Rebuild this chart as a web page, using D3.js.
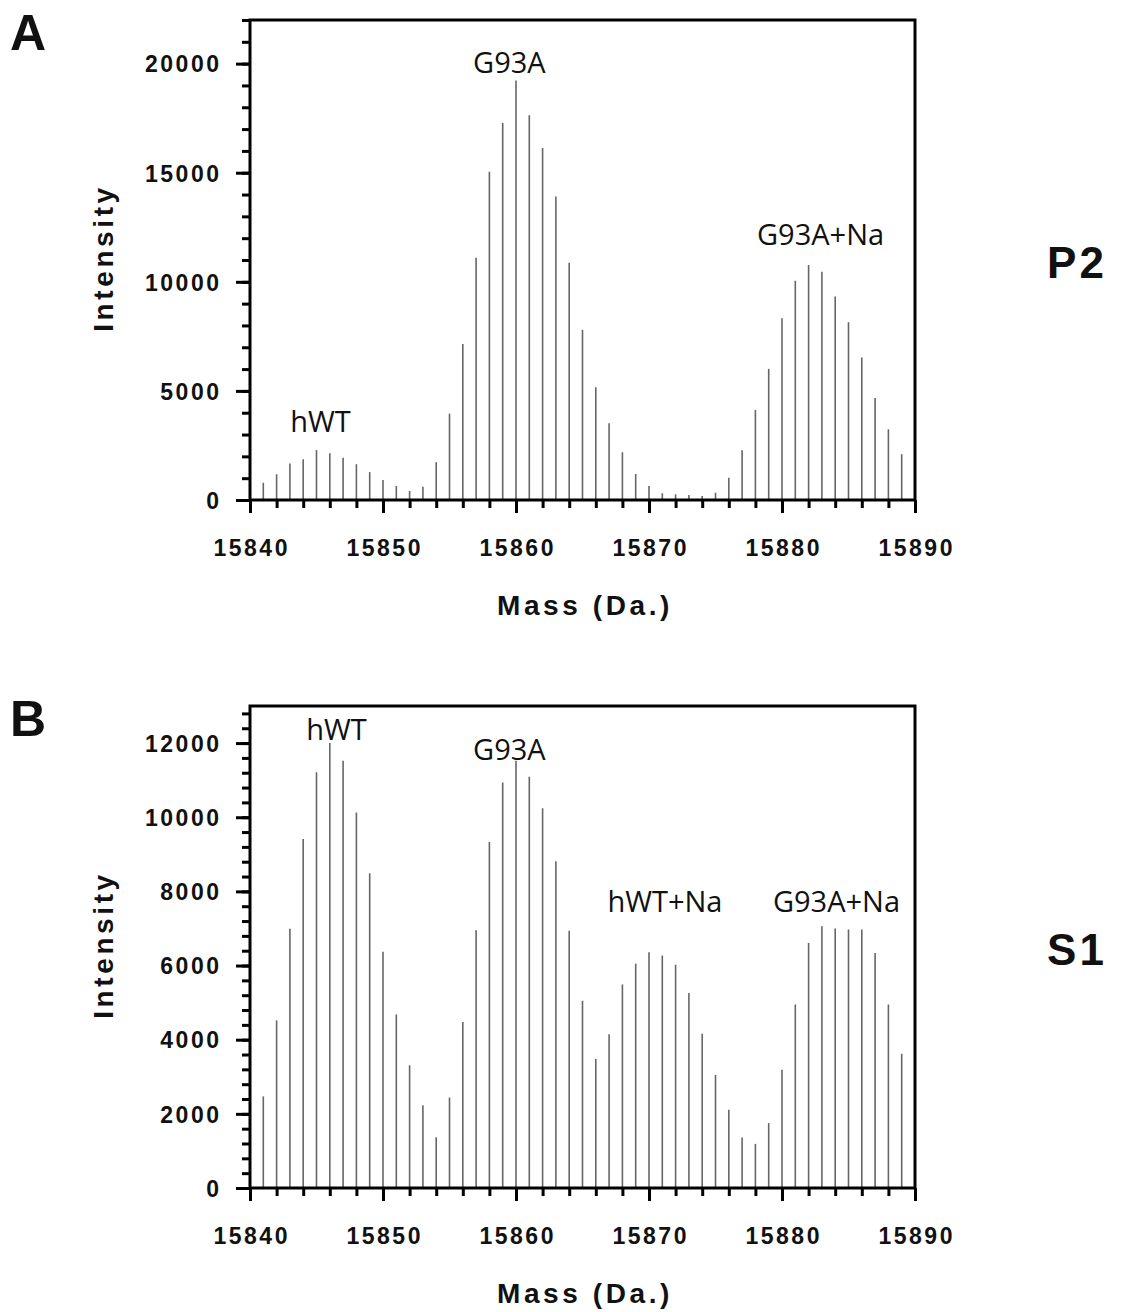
<!DOCTYPE html>
<html>
<head>
<meta charset="utf-8">
<script src="https://cdn.jsdelivr.net/npm/d3@7"></script>
<style>
  body { margin: 0; background: #fff; }
  svg  { display: block; }
  .tick text  { font-family: "Liberation Sans", Arial, sans-serif; font-weight: bold; font-size: 23px; letter-spacing: 2.5px; fill: #111; }
  .axis-title { font-family: "Liberation Sans", Arial, sans-serif; font-weight: bold; font-size: 28px; letter-spacing: 3.6px; fill: #111; }
  .panel-tag  { font-family: "Liberation Sans", Arial, sans-serif; font-weight: bold; fill: #111; }
  .peak-label { font-family: "Open Sans", "DejaVu Sans", sans-serif; font-size: 29px; fill: #111; }
</style>
</head>
<body>
<div id="main_graph"></div>
<script>
'use strict';

// mass axis, one peak per Da
const masses = [
  15841, 15842, 15843, 15844, 15845, 15846, 15847, 15848, 15849, 15850,
  15851, 15852, 15853, 15854, 15855, 15856, 15857, 15858, 15859, 15860,
  15861, 15862, 15863, 15864, 15865, 15866, 15867, 15868, 15869, 15870,
  15871, 15872, 15873, 15874, 15875, 15876, 15877, 15878, 15879, 15880,
  15881, 15882, 15883, 15884, 15885, 15886, 15887, 15888, 15889
]

// panel A (P2) intensities
const intensityP2 = [
    790,  1180,  1670,  1870,  2290,  2140,  1940,  1640,  1280,   920,
    640,   410,   610,  1730,  3960,  7150, 11100, 15050, 17280, 19230,
  17630, 16130, 13910, 10870,  7800,  5170,  3520,  2190,  1190,   640,
    310,   260,   230,   180,   335,  1020,  2280,  4130,  6010,  8330,
  10050, 10770, 10460,  9330,  8150,  6530,  4680,  3240,  2100
]

// panel B (S1) intensities
const intensityS1 = [
   2470,  4520,  6990,  9410, 11210, 12000, 11520, 10130,  8490,  6370,
   4680,  3310,  2230,  1370,  2440,  4480,  6950,  9330, 10940, 11520,
  11090, 10240,  8810,  6940,  5050,  3480,  4150,  5490,  6050,  6360,
   6270,  6020,  5260,  4160,  3050,  2110,  1360,  1190,  1750,  3190,
   4950,  6610,  7060,  7000,  6970,  6970,  6340,  4950,  3620
]

const massTicks   = [15840, 15850, 15860, 15870, 15880, 15890]
const ticksP2     = [0, 5000, 10000, 15000, 20000]
const ticksS1     = [0, 2000, 4000, 6000, 8000, 10000, 12000]

// peak annotations: text, mass, intensity of text baseline
const labelsP2 = [
  { text: 'hWT',     mass: 15845.3, value: 3100  },
  { text: 'G93A',    mass: 15859.5, value: 19570 },
  { text: 'G93A+Na', mass: 15882.9, value: 11690 }
]
const labelsS1 = [
  { text: 'hWT',     mass: 15846.5, value: 12080 },
  { text: 'G93A',    mass: 15859.5, value: 11540 },
  { text: 'hWT+Na',  mass: 15871.2, value: 7440  },
  { text: 'G93A+Na', mass: 15884.1, value: 7440  }
]

class Panel {
  constructor(svg, cfg) {
    this.svg = svg
    this.cfg = cfg
    this.g   = svg.append('g')

    this.x = d3.scaleLinear().domain([15840, 15890]).range([250, 915])
    this.y = d3.scaleLinear().domain([0, cfg.yMax]).range([cfg.bottom, cfg.top])

    this.drawBars()
    this.drawAxes()
    this.drawFrame()
    this.drawLabels()
  }

  drawBars() {
    const pts = masses.map((m, i) => ({ mass: m, value: this.cfg.values[i] }))
    this.g.append('g')
      .selectAll('line')
      .data(pts)
      .enter()
      .append('line')
        .attr('x1', (d) => this.x(d.mass))
        .attr('x2', (d) => this.x(d.mass))
        .attr('y1', this.y(0))
        .attr('y2', (d) => this.y(d.value))
        .attr('stroke', '#666')
        .attr('stroke-width', 1.6)
  }

  styleAxis(sel) {
    sel.select('.domain').remove()
    sel.selectAll('.tick line').attr('stroke', '#000').attr('stroke-width', 3)
  }

  drawAxes() {
    const { x, y, cfg } = this
    const bottom = cfg.bottom

    // minor ticks first
    this.g.append('g')
      .attr('transform', `translate(0,${bottom})`)
      .call(d3.axisBottom(x).tickValues(d3.range(15840, 15891, 2)).tickSize(8).tickFormat(''))
      .call((s) => this.styleAxis(s))

    this.g.append('g')
      .attr('transform', 'translate(250,0)')
      .call(d3.axisLeft(y).tickValues(d3.range(0, cfg.yMax + 1, cfg.yMinor)).tickSize(8).tickFormat(''))
      .call((s) => this.styleAxis(s))

    // major ticks with labels
    const xa = this.g.append('g')
      .attr('transform', `translate(0,${bottom})`)
      .call(d3.axisBottom(x).tickValues(massTicks).tickSize(13).tickFormat(d3.format('d')))
      .call((s) => this.styleAxis(s))
    xa.selectAll('.tick text').attr('y', 56).attr('dy', 0).attr('dx', 1.2)

    const ya = this.g.append('g')
      .attr('transform', 'translate(250,0)')
      .call(d3.axisLeft(y).tickValues(cfg.yTicks).tickSize(14).tickPadding(17).tickFormat(d3.format('d')))
      .call((s) => this.styleAxis(s))
    ya.selectAll('.tick text').attr('dy', '0.36em').attr('dx', 2.5)

    // axis titles
    this.g.append('text')
      .attr('class', 'axis-title')
      .attr('text-anchor', 'middle')
      .attr('transform', `translate(113,${(cfg.top + bottom) / 2}) rotate(-90)`)
      .attr('dx', 2)
      .text('Intensity')

    this.g.append('text')
      .attr('class', 'axis-title')
      .attr('text-anchor', 'middle')
      .attr('x', 585)
      .attr('y', bottom + 115)
      .text('Mass (Da.)')
  }

  drawFrame() {
    const { x, y } = this
    this.g.append('rect')
      .attr('x',      x(15840))
      .attr('y',      y(this.cfg.yMax))
      .attr('width',  x(15890) - x(15840))
      .attr('height', y(0) - y(this.cfg.yMax))
      .attr('fill', 'none')
      .attr('stroke', '#000')
      .attr('stroke-width', 3)
  }

  drawLabels() {
    const { x, y, cfg } = this
    this.g.append('g')
      .selectAll('text')
      .data(cfg.labels)
      .enter()
      .append('text')
        .attr('class', 'peak-label')
        .attr('text-anchor', 'middle')
        .attr('x', (d) => x(d.mass))
        .attr('y', (d) => y(d.value))
        .text((d) => d.text)

    this.g.append('text')
      .attr('class', 'panel-tag')
      .attr('x', 10)
      .attr('y', cfg.top + 30)
      .style('font-size', '50px')
      .text(cfg.tag)

    this.g.append('text')
      .attr('class', 'panel-tag')
      .attr('text-anchor', 'middle')
      .attr('x', 1077)
      .attr('y', (cfg.top + cfg.bottom) / 2 + 18)
      .style('font-size', '44px')
      .style('letter-spacing', '3px')
      .text(cfg.sample)
  }
}

const svg = d3.select('#main_graph')
  .append('svg')
  .attr('width', 1123)
  .attr('height', 1312)

new Panel(svg, {
  tag: 'A', sample: 'P2', top: 20, bottom: 500,
  yMax: 22000, yMinor: 1000, yTicks: ticksP2,
  values: intensityP2, labels: labelsP2
})

new Panel(svg, {
  tag: 'B', sample: 'S1', top: 706, bottom: 1188,
  yMax: 13000, yMinor: 400, yTicks: ticksS1,
  values: intensityS1, labels: labelsS1
})
</script>
</body>
</html>
